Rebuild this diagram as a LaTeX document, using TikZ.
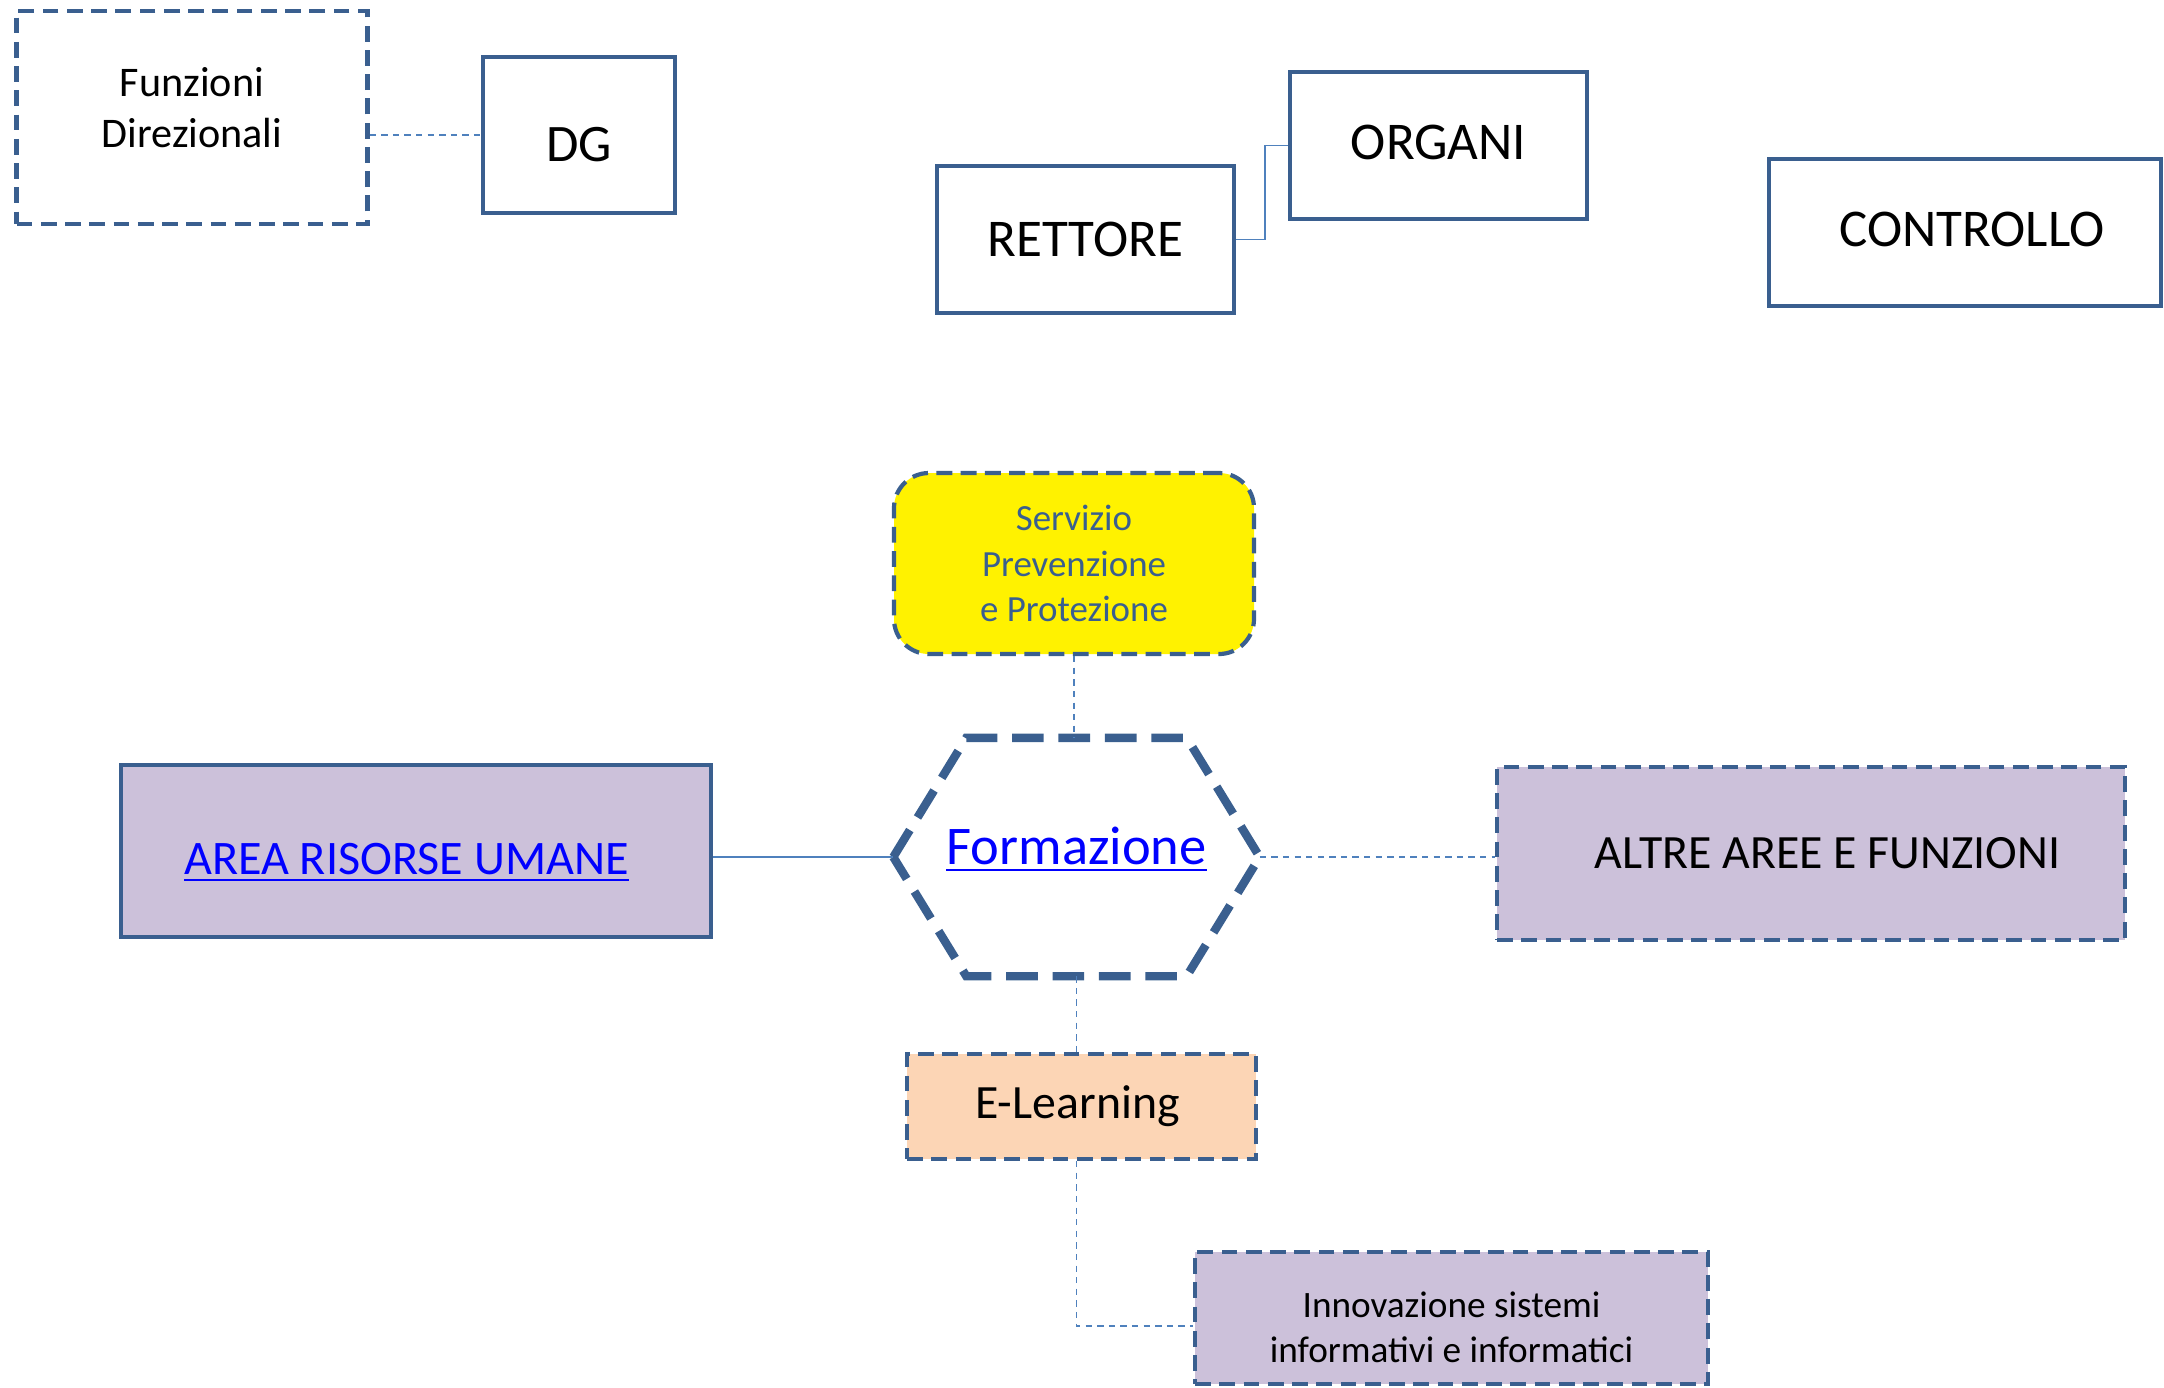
\documentclass[tikz,border=0pt]{standalone}
\usepackage{fontspec}
\setmainfont{Carlito}
\definecolor{boxline}{HTML}{3A5F8F}
\definecolor{linkline}{HTML}{4F81BD}
\definecolor{lavender}{HTML}{CCC1DA}
\definecolor{peach}{HTML}{FCD5B5}
\definecolor{linkblue}{HTML}{0000FF}
\begin{document}
\begin{tikzpicture}
    % Define styles
    \tikzstyle{solidbox} = [draw=boxline, line width=1.2pt, inner sep=0pt, align=center]
    \tikzstyle{dashbox} = [draw=boxline, line width=1.2pt, dash pattern=on 4.5pt off 2.4pt, inner sep=0pt, align=center]
    \tikzstyle{hexline} = [draw=boxline, line width=2.4pt, dash pattern=on 9pt off 4.2pt]
    \tikzstyle{plainlink} = [draw=linkline, line width=0.5pt]
    \tikzstyle{dashlink} = [draw=linkline, line width=0.5pt, dash pattern=on 1.8pt off 1.5pt]

    \useasboundingbox (0,0) rectangle (21.64,-13.87);

    % Top row
    \node[dashbox, minimum width=3.51cm, minimum height=2.13cm, font=\fontsize{12}{14.6}\selectfont] (fd) at (1.92,-1.175) {Funzioni\\Direzionali\rule[-0.2cm]{0pt}{0pt}};
    \node[solidbox, minimum width=1.92cm, minimum height=1.56cm, text height=0.52cm, text depth=0cm, font=\fontsize{15}{18}\selectfont] (dg) at (5.79,-1.35) {DG};
    \node[solidbox, minimum width=2.97cm, minimum height=1.47cm, font=\fontsize{15.1}{18}\selectfont] (rett) at (10.855,-2.395) {RETTORE};
    \node[solidbox, minimum width=2.97cm, minimum height=1.47cm, text height=0.28cm, text depth=0cm, font=\fontsize{15.1}{18}\selectfont] (org) at (14.385,-1.455) {ORGANI};
    \node[solidbox, minimum width=3.92cm, minimum height=1.47cm, text height=0.28cm, text depth=0cm, font=\fontsize{15.1}{18}\selectfont] (ctrl) at (19.65,-2.325) {\hspace*{0.14cm}CONTROLLO};

    % Middle
    \node[dashbox, fill=yellow, rounded corners=0.35cm, minimum width=3.60cm, minimum height=1.81cm, text=boxline, font=\fontsize{10.5}{12.9}\selectfont] (serv) at (10.74,-5.635) {Servizio\\Prevenzione\\e Protezione};
    \node[minimum width=3.65cm, minimum height=2.37cm, inner sep=0pt, text height=0.35cm, text depth=0.2cm, font=\fontsize{15.5}{18}\selectfont] (form) at (10.765,-8.57) {\textcolor{linkblue}{\underline{Formazione}}};
    \draw[hexline] (form.west) -- ([xshift=0.73cm]form.north west) -- ([xshift=-0.73cm]form.north east) -- (form.east) -- ([xshift=-0.73cm]form.south east) -- ([xshift=0.73cm]form.south west) -- cycle;
    \node[solidbox, fill=lavender, minimum width=5.90cm, minimum height=1.725cm, text height=0.47cm, text depth=0cm, font=\fontsize{13.7}{16}\selectfont] (aru) at (4.16,-8.51) {\textcolor{linkblue}{\underline{AREA RISORSE UMANE}}\hspace*{0.19cm}};
    \node[dashbox, fill=lavender, minimum width=6.28cm, minimum height=1.73cm, font=\fontsize{13.6}{16}\selectfont] (altre) at (18.11,-8.535) {\hspace*{0.33cm}ALTRE AREE E FUNZIONI};

    % Bottom
    \node[dashbox, fill=peach, minimum width=3.49cm, minimum height=1.05cm, font=\fontsize{13.6}{16}\selectfont] (elearn) at (10.815,-11.065) {\hspace*{-0.08cm}E-Learning};
    \node[dashbox, fill=lavender, minimum width=5.13cm, minimum height=1.32cm, font=\fontsize{10.6}{12.9}\selectfont] (innov) at (14.515,-13.18) {\rule{0pt}{0.44cm}Innovazione sistemi\\informativi e informatici};

    % Connectors
    \draw[dashlink] (fd.east |- dg.west) -- (dg.west);
    \draw[plainlink] (rett.east) -- ++(0.29,0) |- (org.west);
    \draw[dashlink] (serv.south) -- (serv.south |- form.north);
    \draw[plainlink] (aru.east |- form.west) -- (form.west);
    \draw[dashlink] (form.east) -- (form.east -| altre.west);
    \draw[dashlink] (form.south) -- (form.south |- elearn.north);
    \draw[dashlink] (form.south |- elearn.south) |- ([yshift=-0.08cm]innov.west);
\end{tikzpicture}
\end{document}
